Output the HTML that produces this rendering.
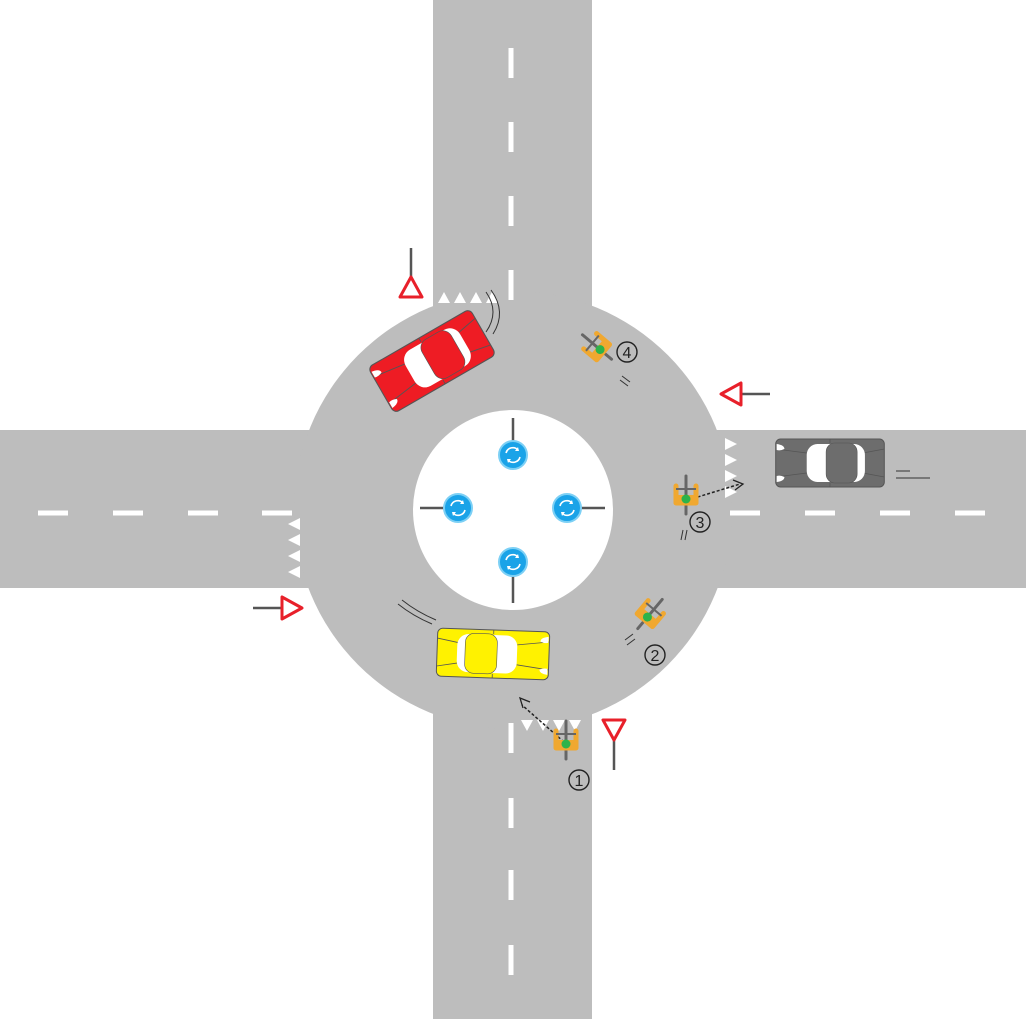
<!DOCTYPE html>
<html><head><meta charset="utf-8"><style>html,body{margin:0;padding:0;background:#fff}svg{display:block}</style></head>
<body>
<svg width="1026" height="1019" viewBox="0 0 1026 1019" xmlns="http://www.w3.org/2000/svg" font-family="Liberation Sans, sans-serif">
<defs>
<g id="cyc">
  <line x1="0" y1="-19" x2="0" y2="19" stroke="#666" stroke-width="3" stroke-linecap="round"/>
  <path d="M-10,-9 L-10,8 L10,8 L10,-9" stroke="#f0a830" stroke-width="5" fill="none" stroke-linejoin="round" stroke-linecap="round"/>
  <rect x="-10" y="0" width="20" height="10" rx="2" fill="#f0a830"/>
  <line x1="-10" y1="-6" x2="10" y2="-6" stroke="#666" stroke-width="2"/>
  <circle cx="0" cy="4" r="4.5" fill="#2db34a"/>
</g>
<g id="blue">
  <circle r="14" fill="#1aa3e8" stroke="#7dd0f5" stroke-width="2"/>
  <path d="M-7,-2 A7,7 0 0 1 5,-5" stroke="#fff" stroke-width="1.6" fill="none"/>
  <path d="M7,2 A7,7 0 0 1 -5,5" stroke="#fff" stroke-width="1.6" fill="none"/>
  <path d="M5,-8 L6,-4 L2,-4Z M-5,8 L-6,4 L-2,4Z" fill="#fff"/>
</g>
<g id="car">
  <rect x="-56" y="-24" width="112" height="48" rx="5" fill="currentColor" stroke="#555" stroke-width="1"/>
  <line x1="-56" y1="-14" x2="-24" y2="-10" stroke="#555" stroke-width=".8"/>
  <line x1="-56" y1="14" x2="-24" y2="10" stroke="#555" stroke-width=".8"/>
  <line x1="56" y1="-14" x2="34" y2="-10" stroke="#555" stroke-width=".8"/>
  <line x1="56" y1="14" x2="34" y2="10" stroke="#555" stroke-width=".8"/>
  <line x1="0" y1="-24" x2="0" y2="-20" stroke="#555" stroke-width=".8"/>
  <line x1="0" y1="24" x2="0" y2="20" stroke="#555" stroke-width=".8"/>
  <rect x="-24" y="-19" width="60" height="38" rx="11" fill="#fff"/>
  <rect x="-4" y="-20" width="32" height="40" rx="9" fill="currentColor" stroke="#555" stroke-width=".6"/>
  <path d="M-55,-19 q8,1 8,5 q-4,2 -8,1Z M-55,19 q8,-1 8,-5 q-4,-2 -8,-1Z" fill="#fff"/>
</g>
</defs>
<rect width="1026" height="1019" fill="#fff"/>
<g fill="#bdbdbd">
  <rect x="433" y="0" width="159" height="1019"/>
  <rect x="0" y="430" width="1026" height="158"/>
  <circle cx="513" cy="510" r="219"/>
</g>
<circle cx="513" cy="510" r="100" fill="#fff"/>
<g stroke="#fff" stroke-width="5">
  <line x1="511" y1="48" x2="511" y2="78"/><line x1="511" y1="122" x2="511" y2="152"/><line x1="511" y1="196" x2="511" y2="226"/><line x1="511" y1="270" x2="511" y2="300"/>
  <line x1="511" y1="798" x2="511" y2="828"/><line x1="511" y1="870" x2="511" y2="900"/><line x1="511" y1="945" x2="511" y2="975"/><line x1="511" y1="723" x2="511" y2="753"/>
  <line x1="38" y1="513" x2="68" y2="513"/><line x1="113" y1="513" x2="143" y2="513"/><line x1="188" y1="513" x2="218" y2="513"/><line x1="262" y1="513" x2="292" y2="513"/>
  <line x1="730" y1="513" x2="760" y2="513"/><line x1="805" y1="513" x2="835" y2="513"/><line x1="880" y1="513" x2="910" y2="513"/><line x1="955" y1="513" x2="985" y2="513"/>
</g>
<g fill="#fff">
  <path d="M438,303 l6,-11 l6,11Z M454,303 l6,-11 l6,11Z M470,303 l6,-11 l6,11Z M486,303 l6,-11 l6,11Z"/>
  <path d="M725,438 l12,6 l-12,6Z M725,454 l12,6 l-12,6Z M725,470 l12,6 l-12,6Z M725,486 l12,6 l-12,6Z"/>
  <path d="M300,518 l-12,6 l12,6Z M300,534 l-12,6 l12,6Z M300,550 l-12,6 l12,6Z M300,566 l-12,6 l12,6Z"/>
  <path d="M521,720 l6,11 l6,-11Z M537,720 l6,11 l6,-11Z M553,720 l6,11 l6,-11Z M569,720 l6,11 l6,-11Z"/>
</g>
<g stroke="#555" stroke-width="2.5">
  <line x1="513" y1="418" x2="513" y2="450"/><line x1="420" y1="508" x2="452" y2="508"/>
  <line x1="573" y1="508" x2="605" y2="508"/><line x1="513" y1="568" x2="513" y2="603"/>
  <line x1="411" y1="248" x2="411" y2="278"/><line x1="742" y1="394" x2="770" y2="394"/>
  <line x1="253" y1="608" x2="282" y2="608"/><line x1="614" y1="740" x2="614" y2="770"/>
</g>
<use href="#blue" x="513" y="455"/><use href="#blue" x="458" y="508"/><use href="#blue" x="567" y="508"/><use href="#blue" x="513" y="562"/>
<g fill="#fff" stroke="#e8202a" stroke-width="3" stroke-linejoin="round">
  <path d="M411,277 l11,20 l-22,0Z"/>
  <path d="M721,394 l20,-11 l0,22Z"/>
  <path d="M302,608 l-20,-11 l0,22Z"/>
  <path d="M614,740 l-11,-20 l22,0Z"/>
</g>
<g color="#ee1c24" transform="translate(432,361) rotate(-30) scale(1.05,1.1)"><use href="#car"/></g>
<g color="#fff200" transform="translate(493,654) rotate(2)"><use href="#car" transform="scale(-1,1)"/></g>
<g color="#6d6d6d" transform="translate(830,463) scale(0.97,1)"><use href="#car"/></g>
<g stroke="#333" stroke-width="1" fill="none">
  <path d="M486,292 q14,20 0,40"/><path d="M491,290 q16,22 2,44"/>
  <path d="M398,604 q15,12 34,20"/><path d="M402,600 q15,12 34,20"/>
  <line x1="896" y1="471" x2="910" y2="471"/><line x1="896" y1="478" x2="930" y2="478"/>
  <path d="M622,376 l8,6 M620,380 l8,6"/><path d="M625,640 l8,-6 M627,645 l8,-6"/><path d="M683,530 l-2,10 M687,530 l-2,10"/>
</g>
<g stroke="#222" stroke-width="1.5" fill="none" stroke-dasharray="3,2">
  <line x1="564" y1="742" x2="522" y2="705"/><line x1="688" y1="500" x2="740" y2="484"/>
</g>
<g stroke="#222" stroke-width="1.3" fill="none">
  <path d="M530,702 l-10,-4 l3,10"/><path d="M733,480 l10,4 l-8,6"/>
</g>
<use href="#cyc" transform="translate(566,740)"/>
<use href="#cyc" transform="translate(650,614) rotate(40)"/>
<use href="#cyc" transform="translate(686,495)"/>
<use href="#cyc" transform="translate(597,347) rotate(-50)"/>
<g font-size="16" text-anchor="middle" fill="#222">
  <circle cx="579" cy="780" r="10" fill="none" stroke="#222" stroke-width="1.4"/><text x="579" y="786">1</text>
  <circle cx="655" cy="655" r="10" fill="none" stroke="#222" stroke-width="1.4"/><text x="655" y="661">2</text>
  <circle cx="700" cy="522" r="10" fill="none" stroke="#222" stroke-width="1.4"/><text x="700" y="528">3</text>
  <circle cx="627" cy="352" r="10" fill="none" stroke="#222" stroke-width="1.4"/><text x="627" y="358">4</text>
</g>
</svg>
</body></html>
